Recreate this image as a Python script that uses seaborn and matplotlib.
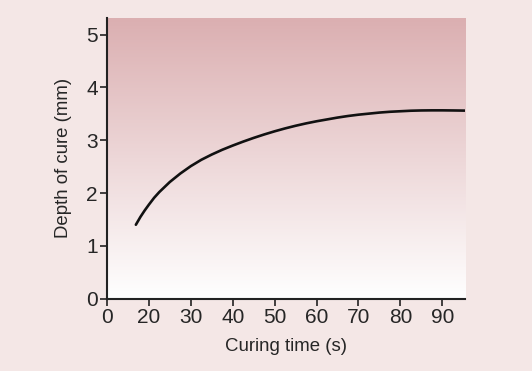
import numpy as np
import pandas as pd
import matplotlib
matplotlib.use("Agg")
import matplotlib.pyplot as plt
import seaborn as sns

# curve (time in s, depth in mm)
curing_time = [16.9, 18.0, 19.0, 20.0, 21.25, 22.5, 25.0, 27.5, 30.0, 32.5, 35.0, 37.5,
               40.0, 42.5, 45.0, 47.5, 50.0, 52.5, 55.0, 57.5, 60.0, 62.5, 65.0, 67.5,
               70.0, 72.5, 75.0, 77.5, 80.0, 82.5, 85.0, 87.5, 90.0, 92.5, 95.4]
depth_of_cure = [1.40, 1.55, 1.67, 1.78, 1.91, 2.02, 2.21, 2.37, 2.51, 2.63, 2.73, 2.82,
                 2.90, 2.975, 3.045, 3.11, 3.17, 3.225, 3.275, 3.32, 3.36, 3.395, 3.43, 3.46,
                 3.485, 3.505, 3.525, 3.54, 3.55, 3.56, 3.565, 3.567, 3.567, 3.565, 3.562]

# the axis is shortened: the "0" tick sits where 10 s would be
tick_pos = [10, 20, 30, 40, 50, 60, 70, 80, 90]
tick_labels = ["0", "20", "30", "40", "50", "60", "70", "80", "90"]
y_ticks = [0, 1, 2, 3, 4, 5]

df = pd.DataFrame({"time": curing_time, "depth": depth_of_cure})

sns.set_style("ticks")
plt.rcParams["font.family"] = ["Liberation Sans", "DejaVu Sans"]

fig = plt.figure(figsize=(5.32, 3.71), dpi=100)
fig.patch.set_facecolor("#f4e7e6")
ax = fig.add_axes([0.201, 0.195, 0.673, 0.757])

# pink to white gradient behind the curve
top = np.array([219, 175, 177]) / 255
bottom = np.array([255, 255, 255]) / 255
t = np.linspace(0, 1, 256)[:, None]
grad = (top * (1 - t) + bottom * t)[:, None, :]
ax.imshow(grad, extent=[0, 1, 0, 1], transform=ax.transAxes, aspect="auto", zorder=0)

sns.lineplot(data=df, x="time", y="depth", ax=ax, color="#111111", linewidth=1.9, zorder=3)

ax.set_xlim(10, 95.4)
ax.set_ylim(0, 5.32)
ax.set_xticks(tick_pos)
ax.set_xticklabels(tick_labels)
ax.set_yticks(y_ticks)

ax.set_xlabel("Curing time (s)", fontsize=13.4, labelpad=8)
ax.set_ylabel("Depth of cure (mm)", fontsize=13.4, labelpad=10)
ax.tick_params(axis="both", labelsize=15, length=5, width=1.2, color="#222222", pad=1.5)

for side in ["top", "right"]:
    ax.spines[side].set_visible(False)
for side in ["left", "bottom"]:
    ax.spines[side].set_linewidth(1.5)
    ax.spines[side].set_color("#222222")
ax.set_facecolor("none")

fig.savefig("out.png", dpi=100, facecolor=fig.get_facecolor())
